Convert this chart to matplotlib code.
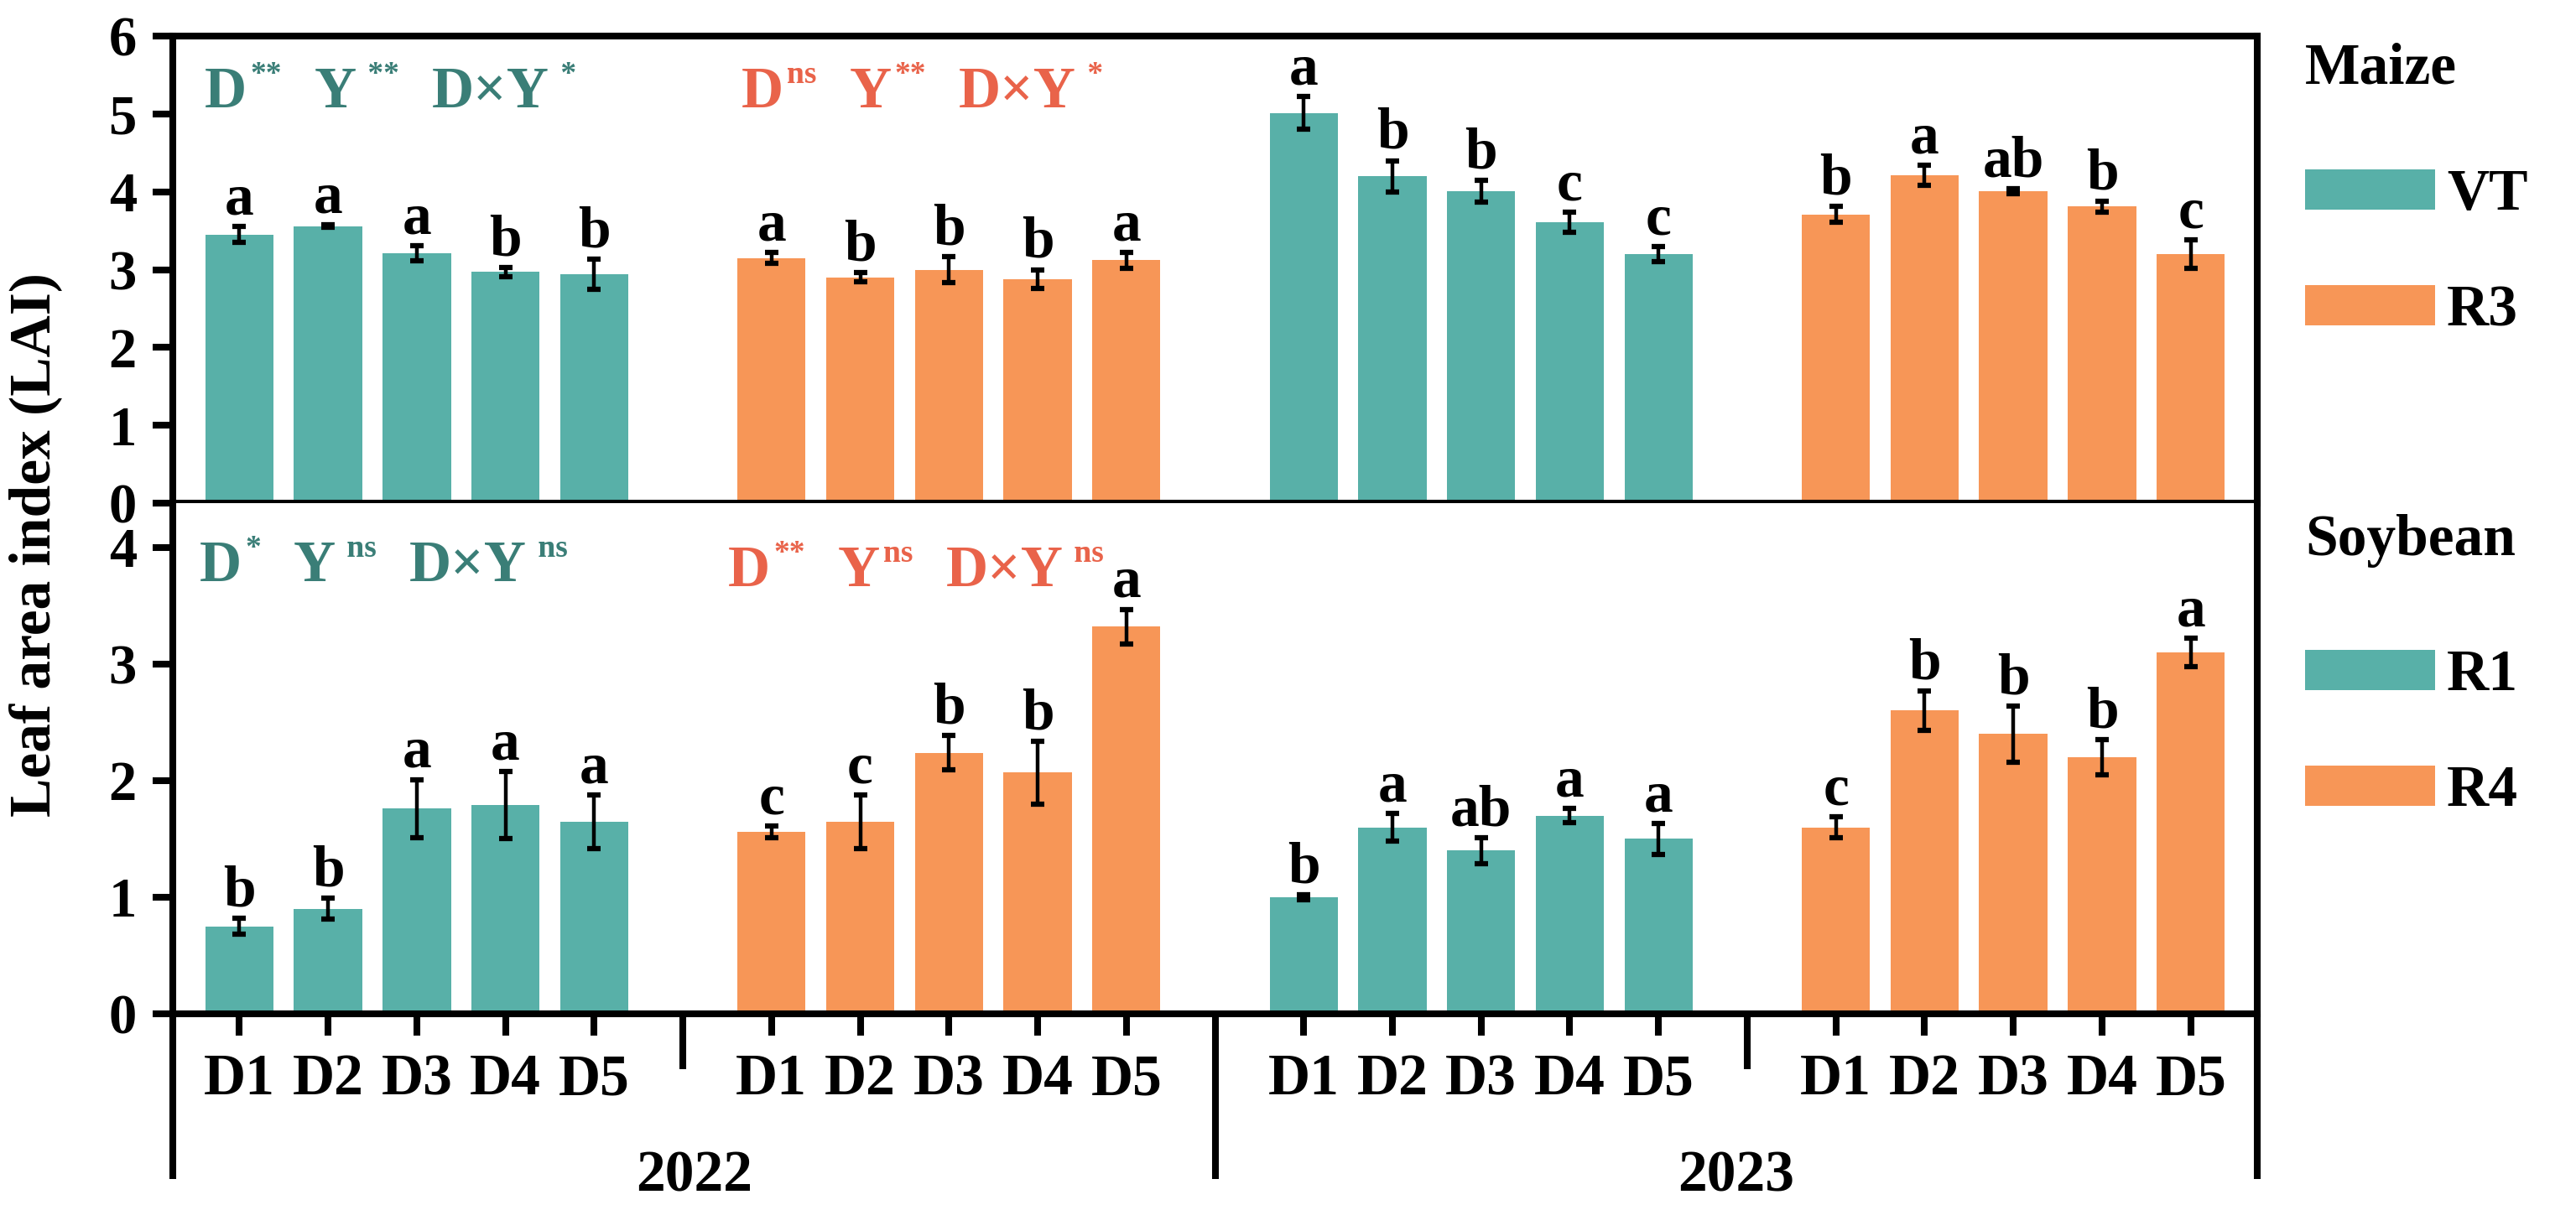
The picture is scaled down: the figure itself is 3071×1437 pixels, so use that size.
import matplotlib
matplotlib.use("Agg")
import matplotlib.pyplot as plt
from matplotlib.patches import Patch
import numpy as np

plt.rcParams["font.family"] = ["Liberation Serif", "DejaVu Serif"]
plt.rcParams["font.weight"] = "bold"

doses = ["D1", "D2", "D3", "D4", "D5"]
years = ["2022", "2023"]

# maize LAI at VT and R3
maize_vt_2022 = [3.45, 3.56, 3.21, 2.97, 2.94]
maize_vt_2022_se = [0.10, 0.02, 0.10, 0.06, 0.19]
maize_vt_2022_sig = ["a", "a", "a", "b", "b"]
maize_r3_2022 = [3.15, 2.90, 3.00, 2.88, 3.12]
maize_r3_2022_se = [0.07, 0.06, 0.17, 0.12, 0.10]
maize_r3_2022_sig = ["a", "b", "b", "b", "a"]
maize_vt_2023 = [5.01, 4.20, 4.01, 3.61, 3.20]
maize_vt_2023_se = [0.21, 0.20, 0.14, 0.13, 0.10]
maize_vt_2023_sig = ["a", "b", "b", "c", "c"]
maize_r3_2023 = [3.71, 4.21, 4.01, 3.81, 3.20]
maize_r3_2023_se = [0.10, 0.13, 0.03, 0.07, 0.18]
maize_r3_2023_sig = ["b", "a", "ab", "b", "c"]

# soybean LAI at R1 and R4
soy_r1_2022 = [0.75, 0.90, 1.76, 1.79, 1.65]
soy_r1_2022_se = [0.07, 0.09, 0.25, 0.29, 0.23]
soy_r1_2022_sig = ["b", "b", "a", "a", "a"]
soy_r4_2022 = [1.56, 1.65, 2.24, 2.07, 3.32]
soy_r4_2022_se = [0.05, 0.23, 0.15, 0.27, 0.15]
soy_r4_2022_sig = ["c", "c", "b", "b", "a"]
soy_r1_2023 = [1.00, 1.60, 1.40, 1.70, 1.50]
soy_r1_2023_se = [0.02, 0.12, 0.11, 0.06, 0.13]
soy_r1_2023_sig = ["b", "a", "ab", "a", "a"]
soy_r4_2023 = [1.60, 2.60, 2.40, 2.20, 3.10]
soy_r4_2023_se = [0.09, 0.17, 0.24, 0.15, 0.12]
soy_r4_2023_sig = ["c", "b", "b", "b", "a"]

# two-way ANOVA results (dose D, year Y)
maize_stats_early = [("D", "**"), ("Y", " **"), ("D×Y", " *")]
maize_stats_late = [("D", "ns"), ("Y", "**"), ("D×Y", " *")]
soy_stats_early = [("D", "*"), ("Y", " ns"), ("D×Y", " ns")]
soy_stats_late = [("D", "**"), ("Y", "ns"), ("D×Y", " ns")]

teal = "#58B0A8"
orange = "#F79657"
teal_txt = "#3A7E77"
orange_txt = "#E9634A"

W, H = 3071, 1437
fig = plt.figure(figsize=(W / 100, H / 100), dpi=100)
ax1 = fig.add_axes([206 / W, 1 - 600 / H, (2691 - 206) / W, (600 - 43) / H])
ax2 = fig.add_axes([206 / W, 1 - 1209 / H, (2691 - 206) / W, (1209 - 600) / H])

LW = 5.8
FS = 50


def draw_panel(ax, groups):
    for g, (vals, se, sig, col) in enumerate(groups):
        x = np.arange(len(doses)) + 1 + 6 * g
        ax.bar(x, vals, width=0.77, color=col, zorder=2)
        ax.errorbar(x, vals, yerr=se, fmt="none", ecolor="black",
                    elinewidth=3.2, capsize=6, capthick=4.5, zorder=3)
        for xi, v, e, s in zip(x, vals, se, sig):
            ax.annotate(s, xy=(xi, v + e), xytext=(0, 10.5), textcoords="offset points",
                        ha="center", va="baseline", fontsize=FS, fontweight="bold")
    ax.set_xlim(0.25, 23.75)
    for sp in ax.spines.values():
        sp.set_linewidth(LW)
    ax.tick_params(axis="y", direction="out", length=17, width=LW, labelsize=48, pad=14)
    ax.tick_params(axis="x", which="both", direction="out", width=LW)


def stat_text(ax, x, y, parts, color):
    anchor = None
    for main, sup in parts:
        if anchor is None:
            m = ax.text(x, y, main, fontsize=FS, color=color, va="baseline", ha="left")
        else:
            m = ax.annotate(main, xy=(1, y), xycoords=(anchor, "data"), xytext=(28, 0),
                            textcoords="offset points", fontsize=FS, color=color,
                            va="baseline", ha="left")
        anchor = ax.annotate(sup, xy=(1, y), xycoords=(m, "data"), xytext=(3, 21),
                             textcoords="offset points", fontsize=27, color=color,
                             va="baseline", ha="left")


bar_pos = np.concatenate([np.arange(5) + 1 + 6 * g for g in range(4)])

# maize panel
draw_panel(ax1, [(maize_vt_2022, maize_vt_2022_se, maize_vt_2022_sig, teal),
                 (maize_r3_2022, maize_r3_2022_se, maize_r3_2022_sig, orange),
                 (maize_vt_2023, maize_vt_2023_se, maize_vt_2023_sig, teal),
                 (maize_r3_2023, maize_r3_2023_se, maize_r3_2023_sig, orange)])
ax1.set_ylim(0, 6)
ax1.set_yticks(range(0, 7))
ax1.set_xticks([6, 12, 18])
ax1.set_xticks(bar_pos, minor=True)
ax1.tick_params(axis="x", which="major", length=32, labelbottom=False)
ax1.tick_params(axis="x", which="minor", length=16, labelbottom=False)
stat_text(ax1, 0.61, 5.08, maize_stats_early, teal_txt)
stat_text(ax1, 6.66, 5.08, maize_stats_late, orange_txt)

# soybean panel
draw_panel(ax2, [(soy_r1_2022, soy_r1_2022_se, soy_r1_2022_sig, teal),
                 (soy_r4_2022, soy_r4_2022_se, soy_r4_2022_sig, orange),
                 (soy_r1_2023, soy_r1_2023_se, soy_r1_2023_sig, teal),
                 (soy_r4_2023, soy_r4_2023_se, soy_r4_2023_sig, orange)])
ax2.set_ylim(0, 4.38)
ax2.set_yticks(range(0, 5))
ax2.spines["top"].set_visible(False)
ax2.set_xticks(bar_pos, labels=doses * 4)
ax2.set_xticks([6, 18], minor=True)
ax2.tick_params(axis="x", which="major", length=19, labelsize=FS, pad=15)
ax2.tick_params(axis="x", which="minor", length=47.5)
stat_text(ax2, 0.55, 3.71, soy_stats_early, teal_txt)
stat_text(ax2, 6.51, 3.67, soy_stats_late, orange_txt)

# year brackets below the soybean panel
xt = ax2.get_xaxis_transform()
for xv in [0.25, 12, 23.75]:
    ax2.plot([xv, xv], [0, -0.3235], transform=xt, color="black", lw=LW,
             solid_capstyle="butt", clip_on=False)
for yr, xc in zip(years, [(0.25 + 12) / 2, (12 + 23.75) / 2]):
    ax2.text(xc, -0.3465, yr, transform=xt, ha="center", va="baseline", fontsize=FS)

fig.text(42 / W, 1 - 650 / H, "Leaf area index (LAI)", rotation=90,
         ha="center", va="center", fontsize=50)


def stage_legend(ax, crop, stages, title_base, top_px):
    fig.text(2748 / W, 1 - title_base / H, crop, ha="left", va="baseline", fontsize=FS)
    handles = [Patch(facecolor=c, edgecolor="none", label=l) for c, l in zip([teal, orange], stages)]
    ax.legend(handles=handles, loc="upper left",
              bbox_to_anchor=(2748 / W, 1 - top_px / H), bbox_transform=fig.transFigure,
              frameon=False, borderpad=0, borderaxespad=0, fontsize=FS,
              handlelength=2.23, handleheight=0.68, handletextpad=0.2, labelspacing=1.07)


stage_legend(ax1, "Maize", ["VT", "R3"], 100, 201)
stage_legend(ax2, "Soybean", ["R1", "R4"], 662, 774)

fig.savefig("out.png", dpi=100)
